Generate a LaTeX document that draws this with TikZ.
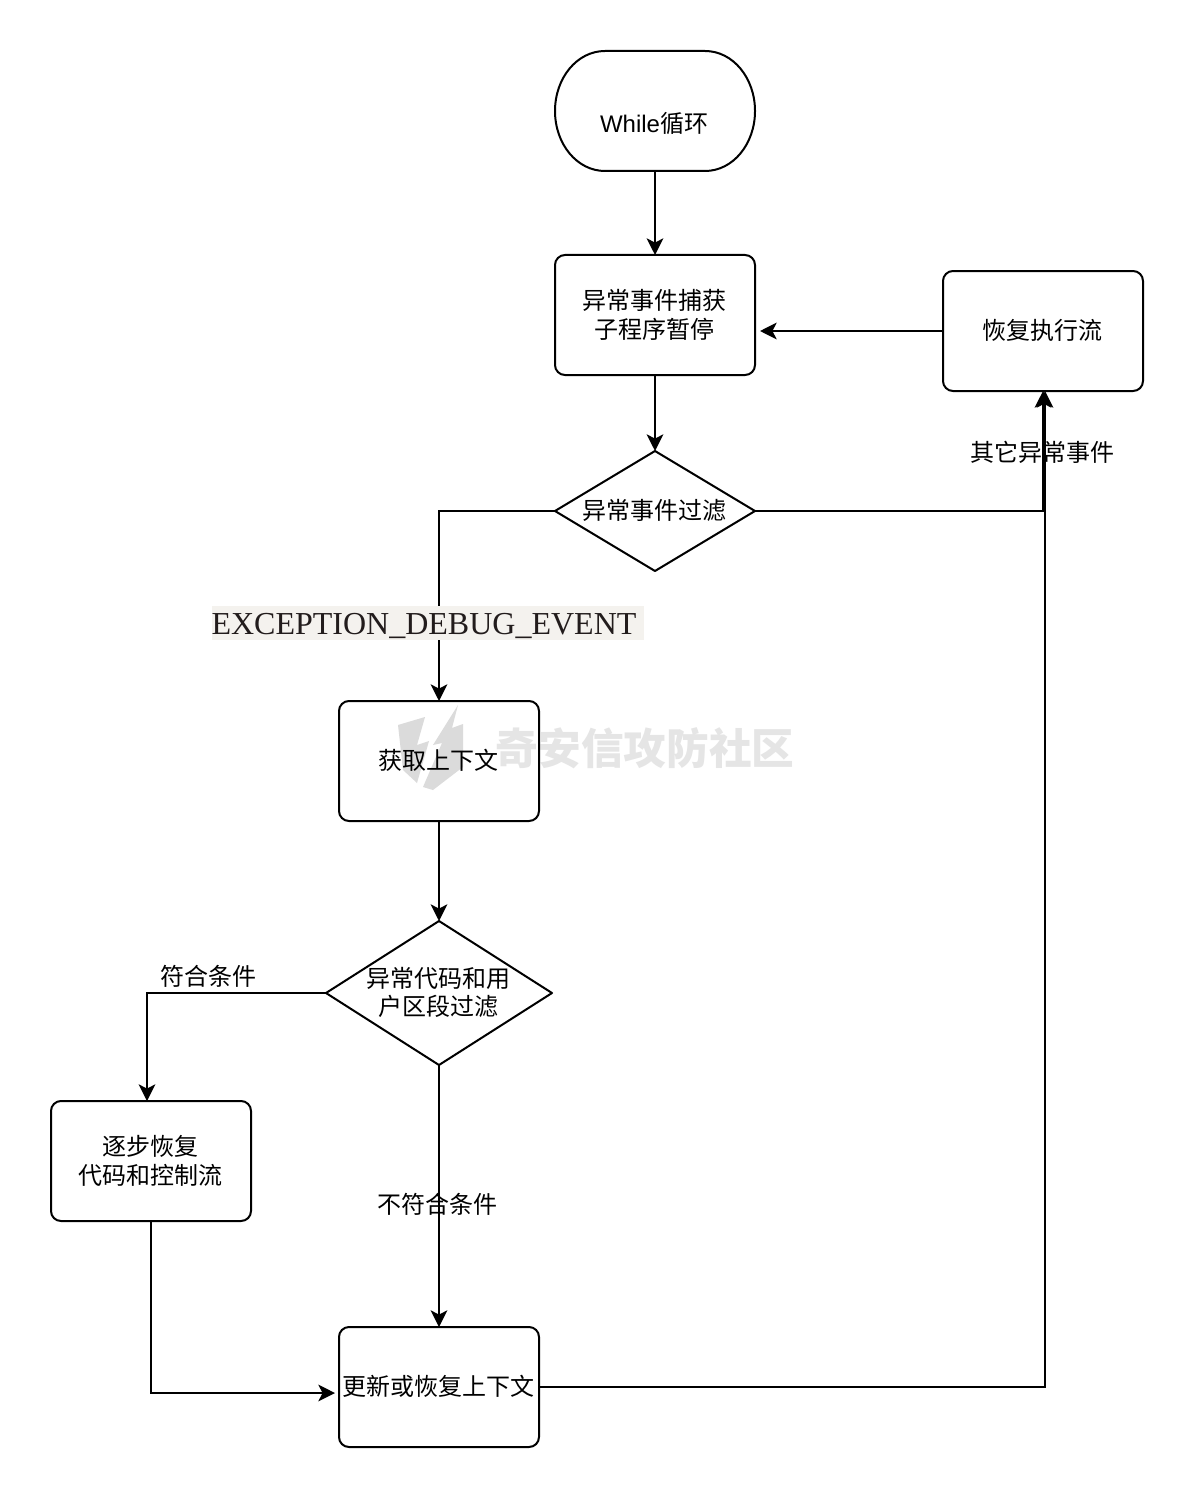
\documentclass[tikz,border=0pt]{standalone}
\usepackage{fontspec}
\setmainfont{Liberation Sans}
\newfontfamily\cjk{Noto Sans CJK SC}
\newfontfamily\serifen{Liberation Serif}
\usetikzlibrary{shapes.geometric,arrows.meta}
\definecolor{wm}{RGB}{229,229,229}
\definecolor{wmshield}{RGB}{219,219,219}
\definecolor{lblbg}{RGB}{244,242,238}
\definecolor{lbltxt}{RGB}{34,28,28}
\newcommand\tl[1]{\hspace*{-1.5pt}\raisebox{0pt}[\dimexpr\height+4.5pt]{\begin{tabular}{@{}c@{}}#1\end{tabular}}}
\tikzset{
  x=0.75pt,y=-0.75pt,
  every node/.style={font=\fontsize{18pt}{21pt}\selectfont\cjk,inner sep=0pt,outer sep=0pt,align=center},
  rbox/.style={draw,line width=1.5pt,rounded corners=7.5pt,minimum width=150pt,minimum height=90pt},
  ghost/.style={minimum width=150pt,minimum height=90pt},
  outl/.style={line width=1.5pt,line join=round},
  conn/.style={line width=1.5pt,-{Stealth[length=12.5pt,width=12.5pt,inset=3.2pt]}},
}
\begin{document}
\begin{tikzpicture}
\useasboundingbox (0,0) rectangle (1194,1498);
\fill[white] (0,0) rectangle (1194,1498);
% watermark
\node[text=wm,font=\fontsize{32pt}{36pt}\selectfont\bfseries\cjk] (wmtext) at (645,748) {奇安信攻防社区};
\fill[wmshield] (398,725) -- (425,717) -- (417,745) -- (429,741) -- (417,783) -- (403,770) -- cycle;
\fill[wmshield] (458,705) -- (452,728) -- (463,724) -- (463,767) -- (433,790) -- (423,787) -- (442,743) -- (433,745) -- cycle;
% shapes
\draw[outl] (605,51) -- (705,51) .. controls (733,51) and (755,78) .. (755,111)
  .. controls (755,144) and (733,171) .. (705,171) -- (605,171)
  .. controls (577,171) and (555,144) .. (555,111)
  .. controls (555,78) and (577,51) .. (605,51) -- cycle;
\node[ghost] (start) at (655,111) {\hspace*{-1.5pt}\raisebox{-16.5pt}[0pt][0pt]{\fontspec{Liberation Sans}While\cjk 循环}};
\node[rbox] (catch) at (655,315) {\tl{异常事件捕获\\子程序暂停}};
\node[rbox] (resume) at (1043,331) {\tl{恢复执行流}};
\draw[outl] (555,511) coordinate (f1l) -- (655,451) coordinate (f1t) -- (755,511) coordinate (f1r) -- (655,571) -- cycle;
\node (filter) at (654,510) {异常事件过滤};
\node[rbox] (ctx) at (439,761) {\tl{获取上下文}};
\draw[outl] (326,993) coordinate (f2l) -- (439,921) coordinate (f2t) -- (552,993) -- (439,1065) coordinate (f2b) -- cycle;
\node (filter2) at (438,992) {异常代码和用\\户区段过滤};
\node[rbox] (stepbox) at (151,1161) {\tl{逐步恢复\\代码和控制流}};
\node[rbox] (upd) at (439,1387) {\tl{更新或恢复上下文}};
% connectors
\draw[conn] (start) -- (catch);
\draw[conn] (catch) -- (f1t);
\draw[conn] (resume.west) -- (760,331);
\draw[conn] (f1r) -- (1043,511) -- (resume.south);
\draw[conn] (f1l) -- (439,511) -- (ctx.north);
\draw[conn] (ctx) -- (f2t);
\draw[conn] (f2l) -- (147,993) -- (147,1101);
\draw[conn] (f2b) -- (upd.north);
\draw[conn] (stepbox.south) -- (151,1393) -- (335,1393);
\draw[conn] (upd.east) -- (1045,1387) -- (1045,391);
% labels
\node[fill=lblbg,text=lbltxt,font=\fontsize{24pt}{28pt}\selectfont\serifen,minimum width=324pt,text height=21.5pt,text depth=4pt] (ev) at (428,623) {EXCEPTION\char"5F DEBUG\char"5F EVENT\hspace{6pt}};
\node (l1) at (1042,452) {其它异常事件};
\node (l2) at (208,976) {符合条件};
\node (l3) at (437.5,1204) {不符合条件};
\end{tikzpicture}
\end{document}
